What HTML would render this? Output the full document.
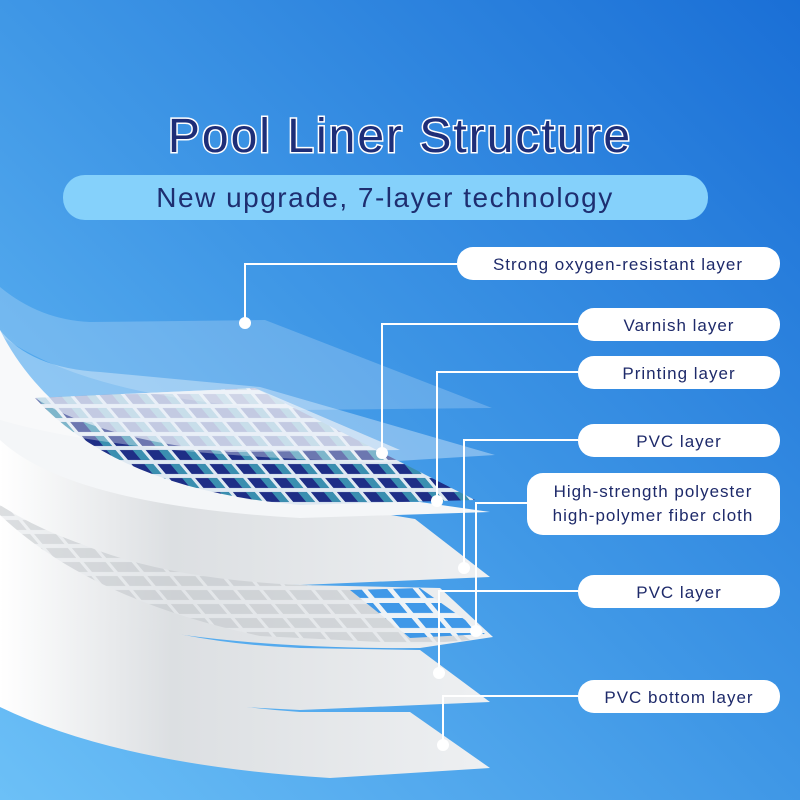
<!DOCTYPE html>
<html><head><meta charset="utf-8"><style>
html,body{margin:0;padding:0;width:800px;height:800px;overflow:hidden}
svg{display:block}
text{font-family:"Liberation Sans",sans-serif}
</style></head><body>
<svg width="800" height="800" viewBox="0 0 800 800" xmlns="http://www.w3.org/2000/svg">
<defs>
<linearGradient id="bg" x1="0" y1="1" x2="1" y2="0">
<stop offset="0" stop-color="#6cc0f7"/>
<stop offset="0.5" stop-color="#3f97e6"/>
<stop offset="1" stop-color="#1a6fd6"/>
</linearGradient>
<linearGradient id="wh" x1="0" y1="0" x2="1" y2="0">
<stop offset="0" stop-color="#ffffff"/>
<stop offset="0.35" stop-color="#dcdfe2"/>
<stop offset="1" stop-color="#eef0f2"/>
</linearGradient>
<pattern id="tiles" width="26" height="14" patternUnits="userSpaceOnUse" patternTransform="skewX(40)">
<rect width="26" height="14" fill="#dfe9f2"/>
<rect x="2" y="2" width="22" height="10" fill="#1e2e86"/>
<rect x="15" y="2" width="9" height="10" fill="#3a8fb0"/>
</pattern>
<pattern id="tiles2" width="26" height="14" patternUnits="userSpaceOnUse" patternTransform="skewX(40)">
<rect width="26" height="14" fill="#e6e9ec"/>
<rect x="2" y="2" width="22" height="10" fill="#c4c8cc"/>
</pattern>
<pattern id="tiles3" width="26" height="15" patternUnits="userSpaceOnUse" patternTransform="skewX(40)">
<rect width="26" height="15" fill="#eef3f7"/>
<rect x="3" y="3" width="20" height="10" fill="#3f98e8"/>
</pattern>
</defs>
<rect width="800" height="800" fill="url(#bg)"/>

<!-- bottom sheet -->
<path d="M0,630 Q120,700 300,712 L410,712 L490,768 L330,778 Q120,765 0,707 Z" fill="url(#wh)"/>
<!-- PVC sheet -->
<path d="M0,560 Q110,640 300,648 L420,650 L490,702 L300,710 Q100,700 0,690 Z" fill="url(#wh)"/>
<!-- gray tile sheet -->
<path d="M0,470 Q100,575 300,585 L440,588 L493,637 L420,648 Q150,650 0,590 Z" fill="url(#wh)"/>
<path d="M0,515 Q90,600 260,636 L420,644 L470,640 L400,590 L300,585 Q100,570 0,505 Z" fill="url(#tiles2)" opacity="0.6"/>
<path d="M350,590 L420,588 L485,634 L410,638 Z" fill="url(#tiles3)"/>
<!-- white sheet 1 -->
<path d="M0,370 Q80,490 300,500 L415,519 L490,577 L300,585 Q80,575 0,490 Z" fill="url(#wh)"/>
<!-- tile base -->
<path d="M0,330 Q60,450 250,500 L420,502 L490,512 L300,518 Q70,505 0,440 Z" fill="#f4f6f8"/>
<!-- mosaic -->
<path d="M35,398 L255,388 L475,500 L300,505 Q120,490 35,398 Z" fill="url(#tiles)"/>
<path d="M35,398 L255,388 L400,450 L230,452 Q100,440 35,398 Z" fill="#dbe6f3" opacity="0.7"/>
<!-- varnish translucent -->
<path d="M0,330 Q30,368 100,372 L260,387 L495,455 L380,462 Q120,455 0,420 Z" fill="#ffffff" opacity="0.35"/>
<!-- top clear sheet -->
<path d="M0,287 Q40,320 90,322 L265,320 L492,408 L300,410 Q90,400 0,335 Z" fill="#ffffff" opacity="0.2"/>

<!-- title -->
<text x="400" y="152" text-anchor="middle" font-size="48" fill="#1e2e78" stroke="#ffffff" stroke-width="3" paint-order="stroke" letter-spacing="2">Pool Liner Structure</text>
<rect x="63" y="175" width="645" height="45" rx="22" fill="#85d1fb"/>
<text x="385" y="207" text-anchor="middle" font-size="28" fill="#1e2e70" letter-spacing="1.5">New upgrade, 7-layer technology</text>

<!-- connectors -->
<g stroke="#ffffff" stroke-width="2" fill="none">
<polyline points="458,264 245,264 245,323"/>
<polyline points="578,324 382,324 382,453"/>
<polyline points="578,372 437,372 437,501"/>
<polyline points="578,440 464,440 464,568"/>
<polyline points="527,503 476,503 476,631"/>
<polyline points="578,591 439,591 439,673"/>
<polyline points="578,696 443,696 443,745"/>
</g>
<g fill="#ffffff">
<circle cx="245" cy="323" r="6"/><circle cx="382" cy="453" r="6"/><circle cx="437" cy="501" r="6"/>
<circle cx="464" cy="568" r="6"/><circle cx="476" cy="631" r="6"/><circle cx="439" cy="673" r="6"/><circle cx="443" cy="745" r="6"/>
</g>

<!-- pills -->
<g fill="#ffffff">
<rect x="457" y="247" width="323" height="33" rx="16"/>
<rect x="578" y="308" width="202" height="33" rx="16"/>
<rect x="578" y="356" width="202" height="33" rx="16"/>
<rect x="578" y="424" width="202" height="33" rx="16"/>
<rect x="527" y="473" width="253" height="62" rx="16"/>
<rect x="578" y="575" width="202" height="33" rx="16"/>
<rect x="578" y="680" width="202" height="33" rx="16"/>
</g>
<g fill="#1e2a6a" font-size="17" letter-spacing="1" text-anchor="middle">
<text x="618" y="270">Strong oxygen-resistant layer</text>
<text x="679" y="331">Varnish layer</text>
<text x="679" y="379">Printing layer</text>
<text x="679" y="447">PVC layer</text>
<text x="653" y="497">High-strength polyester</text>
<text x="653" y="521">high-polymer fiber cloth</text>
<text x="679" y="598">PVC layer</text>
<text x="679" y="703">PVC bottom layer</text>
</g>
</svg>
</body></html>
